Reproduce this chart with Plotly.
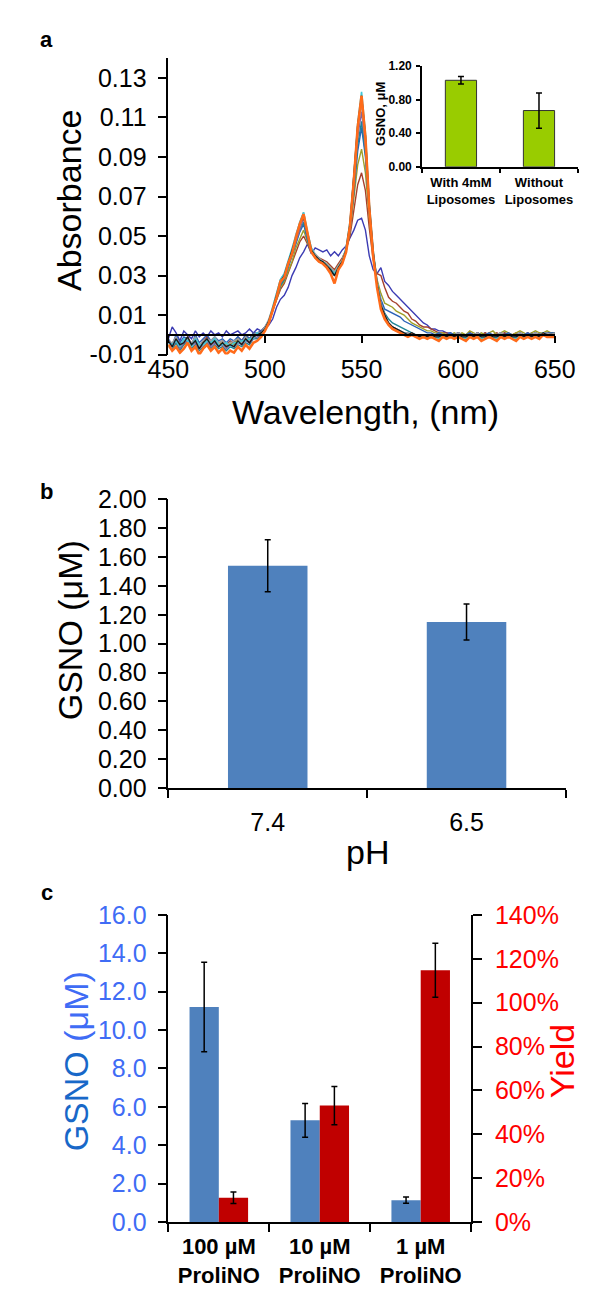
import plotly.graph_objects as go

# ---------------- DATA ----------------
# Panel a: absorbance spectra (values in milli-absorbance units), 2 nm grid 450..650
wavelength_nm = list(range(450, 652, 2))

abs_dark_blue = [
    -2, 4, 1, -3, 2, 0, -2, 2, -1, 1, -1, 2, 0, 1, -1, 2, 0, 1, 2, 0, 1, 3, 1, 3, 2,
    3, 5, 8, 14, 18, 20, 24, 30, 34, 39, 42, 46, 41, 44, 43, 42, 43, 40, 42, 40, 43, 45, 49, 53, 58,
    59, 53, 40, 33, 31, 34, 27, 25, 22, 20, 18, 16, 14, 12, 10, 8, 6, 5, 3, 3, 2, 2, 1, 1, 0,
    1, 0, -1, 1, 0, -1, 0, 1, -1, 0, 0, -1, 1, 0, -1, 0, 1, 0, -1, 1, 0, 1, 0, 1, 1, 1]
abs_brown = [
    -3, -6, -2, -6, -3, -1, -5, -2, -6, -3, -1, -4, -2, -4, -3, -5, -3, -4, -1, -3, 0, -2, 1, 0, 2,
    4, 7, 12, 18, 23, 26, 31, 36, 42, 47, 50, 46, 42, 40, 39, 38, 37, 35, 33, 36, 39, 43, 50, 63, 76,
    82, 73, 54, 38, 31, 30, 24, 19, 17, 16, 14, 12, 11, 8, 7, 5, 4, 4, 3, 2, 1, 1, 1, 0, 0,
    1, 0, 0, 1, 0, 1, 0, 1, 0, 0, 1, 0, 1, 0, 0, 1, 0, 0, 1, 0, 1, 0, 1, 1, 0, 1]
abs_olive = [
    -5, -8, -4, -7, -5, -2, -6, -3, -7, -4, -2, -5, -3, -5, -4, -6, -4, -5, -2, -4, -1, -3, 0, 0, 1,
    3, 6, 12, 18, 24, 27, 32, 37, 44, 49, 53, 47, 42, 39, 38, 37, 36, 34, 32, 35, 38, 43, 52, 69, 86,
    94, 82, 59, 40, 28, 21, 16, 15, 14, 12, 11, 10, 8, 6, 5, 4, 3, 2, 2, 1, 1, 1, 0, 0, 1,
    0, 1, 0, 2, 1, 0, 1, 0, 1, 2, 0, 1, 2, 1, 0, 1, 2, 1, 0, 1, 2, 1, 1, 2, 1, 1]
abs_blue = [
    -2, -5, 0, -4, -1, -2, -5, 0, -4, -2, 0, -3, -1, -3, -2, -4, -2, -3, -1, -3, 0, -2, 1, 1, 2,
    4, 7, 13, 19, 25, 28, 34, 39, 46, 52, 56, 48, 42, 39, 38, 37, 35, 33, 31, 34, 37, 42, 53, 72, 93,
    105, 90, 62, 40, 26, 18, 13, 12, 11, 10, 9, 7, 6, 5, 4, 3, 2, 1, 1, 0, 1, 0, 0, 1, 0,
    1, 0, 0, 1, 0, 1, 0, 0, 1, 0, 0, 1, 0, 1, 0, 0, 1, 0, 1, 0, 1, 0, 1, 1, 1, 1]
abs_teal = [
    -6, -7, -4, -8, -5, -3, -7, -5, -8, -6, -4, -7, -5, -7, -6, -8, -6, -7, -5, -6, -4, -5, -2, -2, 0,
    2, 6, 12, 19, 25, 28, 34, 40, 47, 53, 57, 49, 42, 39, 37, 36, 34, 32, 30, 33, 36, 42, 54, 74, 96,
    108, 92, 63, 41, 26, 16, 11, 8, 6, 5, 4, 3, 2, 1, 0, 0, -1, 0, -1, 0, -1, 0, -1, -1, 0,
    -1, 0, -1, 0, -1, 0, -1, -1, 0, -1, 0, 0, -1, 0, -1, -1, 0, 0, -1, 0, 0, -1, 0, 0, 0, 0]
abs_purple = [
    -4, -6, -3, -7, -4, -3, -6, -4, -7, -5, -3, -6, -4, -6, -5, -7, -5, -6, -4, -5, -3, -4, -2, -1, 0,
    3, 7, 13, 19, 26, 29, 35, 41, 48, 54, 59, 50, 43, 40, 38, 37, 35, 33, 31, 34, 37, 43, 55, 76, 100,
    113, 95, 64, 42, 27, 16, 10, 6, 4, 3, 2, 1, 1, 0, 0, -1, 0, -1, 0, -1, -1, 0, -1, 0, -1,
    0, -1, -1, 0, -1, 0, -1, 0, 0, -1, -1, 0, -1, 0, 0, -1, 0, -1, 0, 0, 0, -1, 1, 0, 0, 0]
abs_grey = [
    -3, -4, -1, -5, -3, -2, -4, -1, -6, -3, -2, -3, -1, -4, -3, -5, -4, -3, -2, -4, -1, -3, 0, 1, 1,
    4, 8, 14, 21, 28, 31, 37, 43, 51, 57, 62, 52, 44, 41, 39, 37, 36, 34, 32, 35, 38, 44, 57, 79, 104,
    117, 98, 65, 42, 27, 16, 10, 6, 4, 3, 2, 1, 1, 0, 0, -1, 0, 0, -1, 0, -1, 0, -1, 0, 0,
    1, 0, -1, 0, 0, 1, -1, 0, 0, -1, 0, 1, 0, 0, -1, 0, 1, 0, 0, 0, 1, 0, 1, 1, 0, 1]
abs_cyan = [
    -4, -5, -3, -6, -2, -3, -6, -2, -5, -5, -3, -4, -2, -5, -5, -4, -6, -4, -4, -3, -3, -2, -2, 1, 0,
    3, 7, 14, 20, 28, 31, 37, 43, 50, 57, 62, 52, 44, 40, 38, 37, 35, 33, 31, 34, 37, 44, 57, 80, 107,
    123, 102, 67, 43, 27, 15, 9, 5, 3, 2, 1, 1, 0, 0, -1, 0, -1, -1, 0, -1, -2, 0, -1, 0, -1,
    0, -1, -2, 0, -1, 0, -2, -1, 0, -1, -2, 0, -1, 0, -1, -2, 0, -1, 0, -1, 0, -1, 1, 0, 0, 0]
abs_black = [
    -3, -6, -2, -5, -4, -1, -5, -3, -7, -4, -2, -5, -3, -6, -4, -6, -5, -6, -3, -5, -2, -4, -1, 0, 1,
    3, 7, 13, 20, 27, 30, 36, 42, 49, 56, 60, 51, 43, 40, 38, 37, 35, 33, 30, 34, 37, 43, 56, 79, 106,
    121, 101, 66, 42, 26, 15, 10, 6, 4, 3, 2, 1, 0, 1, 0, -1, 0, -1, 0, -1, -1, 0, -1, 0, -1,
    0, -1, -1, 0, -1, 0, -1, -1, 0, -1, -1, 0, -1, 0, -1, -1, 0, -1, 0, -1, 0, -1, 1, 0, 0, 0]
abs_orange = [
    -5, -8, -6, -9, -7, -4, -8, -6, -10, -7, -5, -8, -6, -9, -7, -10, -8, -9, -6, -8, -5, -7, -4, -3, -1,
    2, 6, 12, 19, 27, 29, 36, 41, 49, 56, 61, 51, 42, 39, 37, 36, 34, 31, 26, 33, 36, 42, 55, 78, 105,
    121, 100, 64, 40, 24, 13, 8, 5, 3, 2, 1, 0, -1, 0, -1, -2, -1, -2, -1, -2, -3, -1, -2, -1, -2,
    -1, -2, -3, -1, -2, -1, -3, -2, -1, -2, -3, -1, -2, -1, -2, -3, -1, -2, -1, -2, -1, -2, 0, -1, -1, -1]

abs_tick_vals = [-0.01, 0.01, 0.03, 0.05, 0.07, 0.09, 0.11, 0.13]
abs_tick_text = ["-0.01", "0.01", "0.03", "0.05", "0.07", "0.09", "0.11", "0.13"]
wl_tick_vals = [450, 500, 550, 600, 650]

# Panel a inset
inset_categories = ["With 4mM<br>Liposomes", "Without<br>Liposomes"]
inset_values = [1.03, 0.67]
inset_errors = [0.045, 0.21]

# Panel b
ph_categories = ["7.4", "6.5"]
ph_values = [1.54, 1.15]
ph_errors = [0.18, 0.125]

# Panel c
proli_categories = ["100 µM<br>ProliNO", "10 µM<br>ProliNO", "1 µM<br>ProliNO"]
gsno_values = [11.2, 5.3, 1.14]
gsno_errors = [2.33, 0.88, 0.16]
yield_values = [0.111, 0.531, 1.148]
yield_errors = [0.026, 0.087, 0.123]

# ---------------- LAYOUT HELPERS ----------------
W, H = 591, 1290
FONT = "Liberation Sans, Arial, sans-serif"


def fx(p):
    return p / W


def fy(p):
    return 1 - p / H


fig = go.Figure()

spectra = [
    (abs_dark_blue, "#3B3BB3", 1.4),
    (abs_brown, "#A5402D", 1.4),
    (abs_olive, "#A0A02A", 1.4),
    (abs_blue, "#2B62B8", 1.4),
    (abs_teal, "#1E8596", 1.4),
    (abs_purple, "#8064A2", 1.4),
    (abs_grey, "#A0A0A0", 1.4),
    (abs_cyan, "#40C8D8", 1.6),
    (abs_black, "#1A1A1A", 1.4),
    (abs_orange, "#FF6B1A", 2.6),
]
for vals, col, lw in spectra:
    fig.add_trace(go.Scatter(
        x=wavelength_nm, y=[v / 1000 for v in vals], mode="lines",
        line=dict(color=col, width=lw), xaxis="x", yaxis="y", hoverinfo="skip"))

# inset bars
fig.add_trace(go.Bar(
    x=inset_categories, y=inset_values, width=0.4,
    marker=dict(color="#99CC00", line=dict(color="#333333", width=1)),
    error_y=dict(type="data", array=inset_errors, color="black", thickness=1.5, width=3),
    xaxis="x2", yaxis="y2"))

# panel b bars
fig.add_trace(go.Bar(
    x=ph_categories, y=ph_values, width=0.4,
    marker=dict(color="#4F81BD", line=dict(width=0)),
    error_y=dict(type="data", array=ph_errors, color="black", thickness=1.5, width=3),
    xaxis="x3", yaxis="y3"))

# panel c bars
fig.add_trace(go.Bar(
    x=proli_categories, y=gsno_values, width=0.29, offset=-0.29,
    marker=dict(color="#4F81BD", line=dict(width=0)),
    error_y=dict(type="data", array=gsno_errors, color="black", thickness=1.5, width=3),
    xaxis="x4", yaxis="y4"))
fig.add_trace(go.Bar(
    x=proli_categories, y=yield_values, width=0.29, offset=0.0,
    marker=dict(color="#C00000", line=dict(width=0)),
    error_y=dict(type="data", array=yield_errors, color="black", thickness=1.5, width=3),
    xaxis="x4", yaxis="y5"))

axis_common = dict(showgrid=False, zeroline=False, showline=True, linecolor="black",
                   linewidth=1.5, ticks="outside", tickcolor="black", tickwidth=1.5)

# panel a geometry
ya_dom = [fy(340), fy(37)]
ya_range = [-0.01, 0.14]
y0_paper = ya_dom[0] + (0 - ya_range[0]) / (ya_range[1] - ya_range[0]) * (ya_dom[1] - ya_dom[0])

fig.update_layout(
    width=W, height=H, margin=dict(l=0, r=0, t=0, b=0),
    paper_bgcolor="white", plot_bgcolor="rgba(0,0,0,0)", showlegend=False,
    font=dict(family=FONT, color="black"),
    xaxis=dict(domain=[fx(150), fx(566)], range=[450, 650], tickvals=wl_tick_vals,
               anchor="free", position=y0_paper, ticklen=7,
               tickfont=dict(size=25), ticklabelstandoff=5, **axis_common),
    yaxis=dict(domain=ya_dom, range=ya_range, tickvals=abs_tick_vals, ticktext=abs_tick_text,
               anchor="x", ticklen=9, tickfont=dict(size=25), ticklabelstandoff=6, **axis_common),
    xaxis2=dict(domain=[fx(423), 1.0], range=[-0.5, 1.5], anchor="y2", tickson="boundaries",
                tickangle=0, ticklen=4, tickfont=dict(size=13, weight="bold"), ticklabelstandoff=3,
                **axis_common),
    yaxis2=dict(domain=[fy(148), fy(45)], range=[0, 1.2], dtick=0.4, tickformat=".2f", anchor="x2",
                ticklen=4, tickfont=dict(size=12, weight="bold"), ticklabelstandoff=2, **axis_common),
    xaxis3=dict(domain=[fx(150), fx(578)], range=[-0.5, 1.5], anchor="y3", tickson="boundaries",
                ticklen=8, tickfont=dict(size=25), ticklabelstandoff=11, **axis_common),
    yaxis3=dict(domain=[fy(783), fy(488)], range=[0, 2], dtick=0.2, tickformat=".2f", anchor="x3",
                ticklen=9, tickfont=dict(size=25), ticklabelstandoff=6, **axis_common),
    xaxis4=dict(domain=[fx(150), fx(476)], range=[-0.5, 2.5], anchor="y4", tickson="boundaries",
                tickangle=0, ticklen=8, tickfont=dict(size=22, weight="bold"), ticklabelstandoff=4,
                **axis_common),
    yaxis4=dict(domain=[fy(1226.7), fy(912.7)], range=[0, 16], dtick=2, tickformat=".1f", anchor="x4",
                ticklen=9, tickfont=dict(size=25, color="#3F6CF5"), ticklabelstandoff=6, **axis_common),
    yaxis5=dict(range=[0, 1.4], dtick=0.2, tickformat=".0%", anchor="x4", overlaying="y4", side="right",
                ticklen=9, tickfont=dict(size=25, color="#FF0000"), ticklabelstandoff=8, **axis_common),
)

ann = []


def add_text(text, x, y, size, angle=0, bold=False, color="black"):
    ann.append(dict(text=text, x=fx(x), y=fy(y), xref="paper", yref="paper", showarrow=False,
                    textangle=angle, xanchor="center", yanchor="middle",
                    font=dict(family=FONT, size=size, color=color, weight="bold" if bold else "normal")))


add_text("a", 19, 18, 22, bold=True)
add_text("b", 19, 480, 22, bold=True)
add_text("c", 19, 890, 22, bold=True)
add_text("Absorbance", 43, 182, 34, angle=-90)
add_text("Wavelength, (nm)", 362, 399, 34)
add_text("GSNO, μM", 379, 94, 13, angle=-90, bold=True)
add_text("GSNO (μM)", 45, 622, 34, angle=-90)
add_text("pH", 364, 848, 34)
add_text("<span style='color:#1868C8'>GSNO</span> <span style='color:#3F6CF5'>(μM)</span>",
         51, 1062, 34, angle=-90)
add_text("Yield", 574, 1062, 34, angle=-90, color="#FF0000")
fig.update_layout(annotations=ann)

fig.write_html("out.html")
